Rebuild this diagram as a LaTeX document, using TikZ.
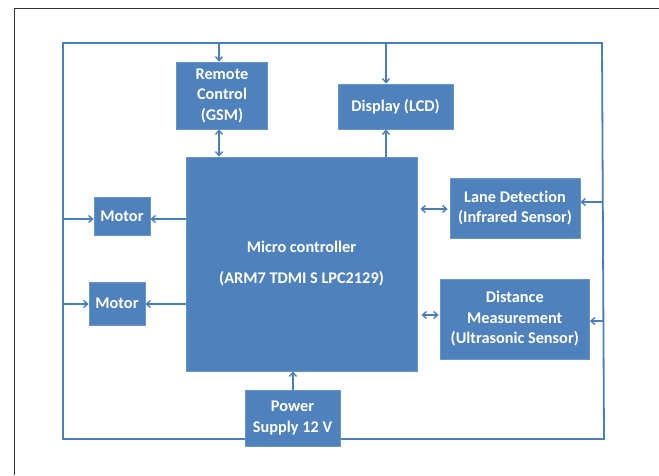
\documentclass[tikz,border=0pt]{standalone}
\usepackage{fontspec}
\setmainfont{Carlito}[Ligatures=NoCommon]
\usetikzlibrary{arrows.meta}
\definecolor{boxblue}{RGB}{79,129,189}
\definecolor{lineblue}{RGB}{74,126,187}
\tikzset{
  x=1pt,y=-1pt,
  box/.style={draw=boxblue!85!white,line width=0.8pt,fill=boxblue,text=white,inner sep=0pt,align=center,
    font=\fontsize{16.3}{20.5}\selectfont\bfseries},
  bus/.style={draw=lineblue,line width=1.8pt},
  conn/.style={draw=lineblue,line width=1.8pt,-{Straight Barb[length=4pt,width=7pt,line width=1.4pt]}},
  dconn/.style={draw=lineblue,line width=1.8pt,{Straight Barb[length=4pt,width=7pt,line width=1.4pt]}-{Straight Barb[length=4pt,width=7pt,line width=1.4pt]}},
}
\begin{document}
\begin{tikzpicture}
\useasboundingbox (0,0) rectangle (659,475);
\fill[white] (0,0) rectangle (659,475);
% outer frame (top and left)
\draw[black!80,line width=1pt] (14,475) -- (14,8) -- (659,8);
% bus loop
\coordinate (tl) at (63,43);
\coordinate (tr) at (602,43);
\coordinate (br) at (604,439);
\coordinate (bl) at (63,439);
\draw[bus] (tl) -- (tr) -- (br) -- (bl) -- cycle;
% nodes
\node[box,minimum width=91pt,minimum height=67pt] (rc) at (222,95.5) {Remote\\Control\\(GSM)};
\node[box,minimum width=115pt,minimum height=45pt] (lcd) at (395.5,106.5) {Display (LCD)};
\node[box,minimum width=231pt,minimum height=214pt,font=\fontsize{16.3}{31}\selectfont\bfseries] (mc) at (301.5,264) {Micro controller\\(ARM7 TDMI S LPC2129)};
\node[box,minimum width=130pt,minimum height=60pt] (lane) at (515,208) {Lane Detection\\(Infrared Sensor)};
\node[box,minimum width=149.5pt,minimum height=80pt] (dist) at (514.75,319) {Distance\\Measurement\\(Ultrasonic Sensor)};
\node[box,minimum width=56pt,minimum height=38pt] (m1) at (122,216) {Motor};
\node[box,minimum width=56pt,minimum height=43pt] (m2) at (117,303.5) {Motor};
\node[box,minimum width=95pt,minimum height=56pt] (ps) at (292.5,418) {Power\\Supply 12 V};
% bus taps
\coordinate (trc) at (219,43);
\coordinate (tlcd) at (386,43);
\coordinate (lm1) at (63,219);
\coordinate (lm2) at (63,304);
\coordinate (rlane) at (603,202);
\coordinate (rdist) at (604,321);
% connectors
\draw[conn] (trc) -- (trc |- rc.north);
\draw[conn] (tlcd) -- (tlcd |- lcd.north);
\draw[dconn] (trc |- rc.south) -- (trc |- mc.north);
\draw[conn] (tlcd |- mc.north) -- (tlcd |- lcd.south);
\draw[conn] (lm1 -| mc.west) -- (lm1 -| m1.east);
\draw[conn] (lm1) -- (lm1 -| m1.west);
\draw[conn] (lm2 -| mc.west) -- (lm2 -| m2.east);
\draw[conn] (lm2) -- (lm2 -| m2.west);
\draw[dconn] ([xshift=3pt]mc.east |- 0,209) -- ([xshift=-2pt]lane.west |- 0,209);
\draw[conn] (rlane) -- (rlane -| lane.east);
\draw[dconn] ([xshift=4pt]mc.east |- 0,315) -- ([xshift=-1pt]dist.west |- 0,315);
\draw[conn] (rdist) -- (rdist -| dist.east);
\draw[conn] (293,0 |- ps.north) -- (293,0 |- mc.south);
\end{tikzpicture}
\end{document}
